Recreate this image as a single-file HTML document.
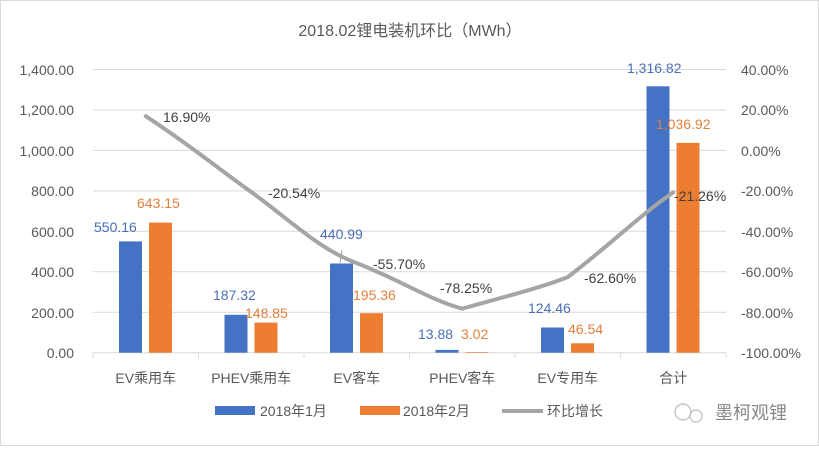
<!DOCTYPE html>
<html><head><meta charset="utf-8"><style>
body{margin:0;background:#fff}
svg text{font-family:"Liberation Sans","Noto Sans CJK SC",sans-serif}
</style></head><body>
<svg width="819" height="446" viewBox="0 0 819 446" xmlns="http://www.w3.org/2000/svg">
<rect x="0.5" y="0.5" width="818" height="445" fill="#fff" stroke="#d9d9d9"/>
<text x="410" y="36" font-size="16" fill="#595959" text-anchor="middle">2018.02锂电装机环比（MWh）</text>
<g stroke="#d9d9d9" stroke-width="1">
<line x1="93" x2="726" y1="69.5" y2="69.5"/>
<line x1="93" x2="726" y1="110" y2="110"/>
<line x1="93" x2="726" y1="150.4" y2="150.4"/>
<line x1="93" x2="726" y1="190.9" y2="190.9"/>
<line x1="93" x2="726" y1="231.3" y2="231.3"/>
<line x1="93" x2="726" y1="271.8" y2="271.8"/>
<line x1="93" x2="726" y1="312.2" y2="312.2"/>
<line x1="93" x2="726" y1="352.7" y2="352.7"/>
<line x1="93" x2="93" y1="352.7" y2="358"/><line x1="198.5" x2="198.5" y1="352.7" y2="358"/>
<line x1="304" x2="304" y1="352.7" y2="358"/><line x1="409.5" x2="409.5" y1="352.7" y2="358"/>
<line x1="515" x2="515" y1="352.7" y2="358"/><line x1="620.5" x2="620.5" y1="352.7" y2="358"/>
<line x1="726" x2="726" y1="352.7" y2="358"/>
</g>
<g font-size="14" fill="#595959" text-anchor="end">
<text x="74" y="75">1,400.00</text><text x="74" y="115">1,200.00</text><text x="74" y="156">1,000.00</text>
<text x="74" y="196">800.00</text><text x="74" y="237">600.00</text><text x="74" y="277">400.00</text>
<text x="74" y="318">200.00</text><text x="74" y="358">0.00</text>
</g>
<g font-size="14" fill="#595959">
<text x="741" y="75">40.00%</text><text x="741" y="115">20.00%</text><text x="741" y="156">0.00%</text>
<text x="741" y="196">-20.00%</text><text x="741" y="237">-40.00%</text><text x="741" y="277">-60.00%</text>
<text x="741" y="318">-80.00%</text><text x="741" y="358">-100.00%</text>
</g>
<g font-size="14" fill="#595959" text-anchor="middle">
<text x="145.75" y="383">EV乘用车</text><text x="251.25" y="383">PHEV乘用车</text><text x="356.75" y="383">EV客车</text>
<text x="462.25" y="383">PHEV客车</text><text x="567.75" y="383">EV专用车</text><text x="673.25" y="383">合计</text>
</g>
<g fill="#4472c4">
<rect x="119" y="241.4" width="23" height="111.3"/>
<rect x="224.5" y="314.8" width="23" height="37.9"/>
<rect x="330" y="263.5" width="23" height="89.2"/>
<rect x="435.5" y="349.9" width="23" height="2.8"/>
<rect x="541" y="327.5" width="23" height="25.2"/>
<rect x="646.5" y="86.3" width="23" height="266.4"/>
</g>
<g fill="#ed7d31">
<rect x="149" y="222.6" width="23" height="130.1"/>
<rect x="254.5" y="322.6" width="23" height="30.1"/>
<rect x="360" y="313.2" width="23" height="39.5"/>
<rect x="465.5" y="352.1" width="23" height="0.6"/>
<rect x="571" y="343.3" width="23" height="9.4"/>
<rect x="676.5" y="142.9" width="23" height="209.8"/>
</g>
<line x1="342" y1="250" x2="340" y2="263" stroke="#a5a5a5" stroke-width="1"/>
<path d="M145.75,116.2 C190,145 220,170 251.25,192 C290,220 320,250 356.75,263.1 C400,280 430,300 462.25,308.7 C500,298 540,288 567.75,277.1 C610,245 640,215 673.25,192.4" fill="none" stroke="#a5a5a5" stroke-width="4" stroke-linecap="round" stroke-linejoin="round"/>
<g font-size="14">
<text x="94" y="232" fill="#4a6fb8">550.16</text>
<text x="137" y="208" fill="#e0803f">643.15</text>
<text x="213" y="300" fill="#4a6fb8">187.32</text>
<text x="245" y="318" fill="#e0803f">148.85</text>
<text x="320" y="239" fill="#4a6fb8">440.99</text>
<text x="353" y="300" fill="#e0803f">195.36</text>
<text x="418" y="339" fill="#4a6fb8">13.88</text>
<text x="461" y="339" fill="#e0803f">3.02</text>
<text x="528" y="313" fill="#4a6fb8">124.46</text>
<text x="568" y="334" fill="#e0803f">46.54</text>
<text x="627" y="73" fill="#4a6fb8">1,316.82</text>
<text x="656" y="129" fill="#e0803f">1,036.92</text>
<text x="163" y="122" fill="#404040">16.90%</text>
<text x="268" y="198" fill="#404040">-20.54%</text>
<text x="373" y="269" fill="#404040">-55.70%</text>
<text x="440" y="293" fill="#404040">-78.25%</text>
<text x="584" y="283" fill="#404040">-62.60%</text>
<text x="674" y="201" fill="#404040">-21.26%</text>
</g>
<rect x="215" y="406" width="40" height="9" fill="#4472c4"/>
<text x="260" y="416" font-size="14" fill="#595959">2018年1月</text>
<rect x="360" y="406" width="40" height="9" fill="#ed7d31"/>
<text x="403" y="416" font-size="14" fill="#595959">2018年2月</text>
<line x1="502" y1="411" x2="543" y2="411" stroke="#a5a5a5" stroke-width="4"/>
<text x="547" y="416" font-size="14" fill="#595959">环比增长</text>
<g fill="none" stroke="#bbb" stroke-width="1.2"><circle cx="683" cy="412" r="8"/><circle cx="696" cy="416" r="6"/></g>
<text x="715" y="419" font-size="18" fill="#888">墨柯观锂</text>
</svg>
</body></html>
